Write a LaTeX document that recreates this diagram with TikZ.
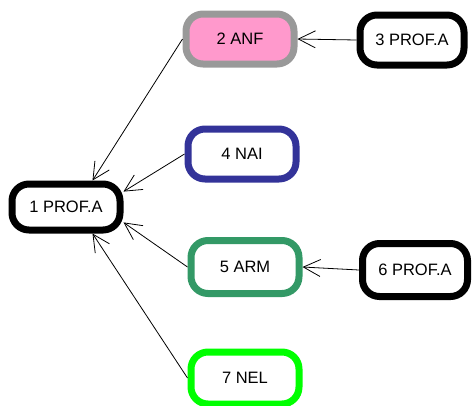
\documentclass[tikz,border=0pt]{standalone}
\usepackage{fontspec}
\setmainfont{Liberation Sans}
\usetikzlibrary{arrows.meta}

\definecolor{anfgray}{HTML}{999999}
\definecolor{anfpink}{HTML}{FF99CC}
\definecolor{naiblue}{HTML}{333399}
\definecolor{armgreen}{HTML}{339966}
\definecolor{nellime}{HTML}{00FF00}

\tikzset{
  box/.style={draw=black, line width=7pt, fill=white, rounded corners=17pt,
    minimum width=108pt, minimum height=50pt, inner sep=2pt,
    font=\fontsize{16.5}{19}\selectfont},
  link/.style={line width=0.8pt, -{Straight Barb[length=17pt,width=17pt]}}
}

\begin{document}
\begin{tikzpicture}[x=1pt, y=-1pt]

    \useasboundingbox (0,0) rectangle (473,405);

    \node[box, minimum height=46pt] (n1) at (66,207) {1 PROF.A};
    \node[box, draw=anfgray, fill=anfpink] (n2) at (240,39) {2 ANF};
    \node[box, minimum width=104pt] (n3) at (412,40) {3 PROF.A};
    \node[box, draw=naiblue] (n4) at (242,154) {4 NAI};
    \node[box, draw=armgreen, minimum height=53pt] (n5) at (245,267) {5 ARM};
    \node[box, minimum width=105pt, minimum height=53pt] (n6) at (415,270) {6 PROF.A};
    \node[box, draw=nellime, minimum height=52pt] (n7) at (245,378) {7 NEL};

    \foreach \src/\ang in {n2/45, n4/15, n5/-15, n7/-45} {
        \draw[link] (\src.west) -- (n1.\ang);
    }
    \draw[link] (n3.west) -- (n2.east);
    \draw[link] (n6.west) -- (n5.east);

\end{tikzpicture}
\end{document}
